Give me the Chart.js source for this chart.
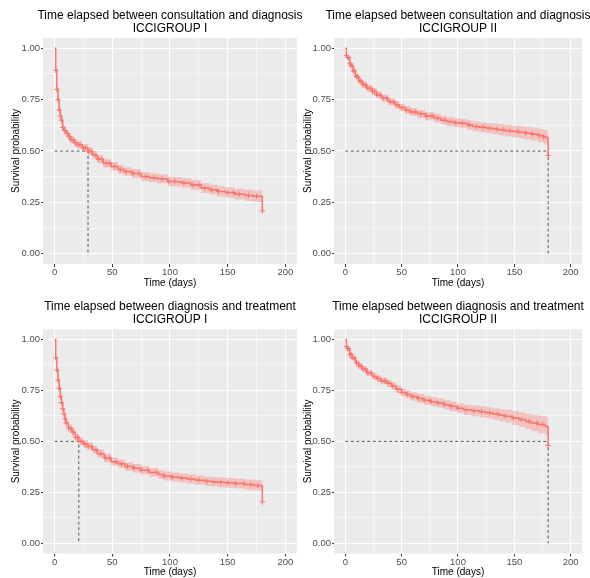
<!DOCTYPE html>
<html><head><meta charset="utf-8">
<script src="https://cdn.jsdelivr.net/npm/chart.js@4.4.0/dist/chart.umd.min.js"></script>
<style>
html,body{margin:0;padding:0;background:#fff;overflow:hidden;width:590px;height:578px;position:relative;}
canvas{position:absolute;}
</style></head><body>
<canvas id="c1" width="340" height="290" style="left:0px;top:0px"></canvas>
<canvas id="c2" width="316" height="290" style="left:300px;top:0px"></canvas>
<canvas id="c3" width="340" height="288" style="left:0px;top:290px"></canvas>
<canvas id="c4" width="316" height="288" style="left:300px;top:290px"></canvas>
<script>
// ---------- tick labels / axes ----------
const xMajorTicks = [0, 50, 100, 150, 200];
const xMinorTicks = [25, 75, 125, 175];
const yMajorTicks = [0, 0.25, 0.5, 0.75, 1];
const yMinorTicks = [0.125, 0.375, 0.625, 0.875];
const xLimits = [-10, 210];
const yLimits = [-0.05, 1.05];
const xAxisTitle = 'Time (days)';
const yAxisTitle = 'Survival probability';

// ---------- Panel 1: consultation -> diagnosis, ICCIGROUP I ----------
const cdITitle = ['Time elapsed between consultation and diagnosis', 'ICCIGROUP I'];
const cdITime  = [0,1,2,3,4,5,6,7,8,10,12,14,17,20,24,29,33,37,42,49,55,60,67,75,82,89,98,105,110,118,127,134,141,148,156,165,172,179,180];
const cdISurv  = [1.0,0.893,0.80,0.75,0.70,0.67,0.65,0.615,0.60,0.585,0.57,0.555,0.54,0.53,0.515,0.498,0.48,0.46,0.44,0.425,0.41,0.40,0.39,0.376,0.37,0.365,0.352,0.35,0.344,0.335,0.32,0.312,0.303,0.298,0.29,0.284,0.28,0.279,0.209];
const cdILower = [1.0,0.878,0.782,0.732,0.681,0.651,0.631,0.596,0.581,0.566,0.551,0.536,0.521,0.511,0.496,0.478,0.46,0.44,0.42,0.404,0.389,0.379,0.368,0.354,0.348,0.343,0.329,0.327,0.321,0.311,0.296,0.288,0.278,0.273,0.264,0.257,0.252,0.250,0.250];
const cdIUpper = [1.0,0.908,0.818,0.768,0.719,0.689,0.669,0.634,0.619,0.604,0.589,0.574,0.559,0.549,0.534,0.518,0.50,0.48,0.46,0.446,0.431,0.421,0.412,0.398,0.392,0.387,0.375,0.373,0.367,0.359,0.344,0.336,0.328,0.323,0.316,0.311,0.308,0.308,0.308];
const cdICensor = [1,2,3,4,5,6,7,9,11,13,14,16,18,20,22,25,27,30,32,35,38,41,45,48,52,57,62,68,73,79,86,93,99,104,112,120,125,130,136,142,150,155,160,168,175,180];
const cdIMedian = 29;

// ---------- Panel 2: consultation -> diagnosis, ICCIGROUP II ----------
const cdIITitle = ['Time elapsed between consultation and diagnosis', 'ICCIGROUP II'];
const cdIITime  = [0,1,2,4,5,7,9,12,15,19,24,28,32,38,44,48,53,58,64,71,79,85,90,96,102,108,113,119,125,131,136,142,148,154,160,165,171,176,179,180];
const cdIISurv  = [1.0,0.965,0.955,0.927,0.915,0.89,0.862,0.84,0.822,0.805,0.789,0.773,0.757,0.74,0.724,0.712,0.70,0.69,0.681,0.67,0.66,0.65,0.643,0.638,0.635,0.627,0.619,0.615,0.611,0.607,0.603,0.599,0.595,0.591,0.587,0.582,0.575,0.568,0.562,0.478];
const cdIILower = [1.0,0.959,0.947,0.917,0.904,0.878,0.849,0.826,0.807,0.79,0.773,0.757,0.74,0.723,0.706,0.694,0.681,0.671,0.661,0.65,0.639,0.629,0.621,0.616,0.613,0.604,0.595,0.591,0.586,0.581,0.576,0.571,0.567,0.562,0.557,0.551,0.542,0.533,0.526,0.526];
const cdIIUpper = [1.0,0.971,0.963,0.937,0.926,0.902,0.875,0.854,0.837,0.82,0.805,0.789,0.774,0.757,0.742,0.73,0.719,0.709,0.701,0.69,0.681,0.671,0.665,0.66,0.657,0.65,0.643,0.639,0.636,0.633,0.63,0.627,0.623,0.62,0.617,0.613,0.608,0.603,0.598,0.598];
const cdIICensor = [1,2,3,4,5,6,7,8,10,11,13,14,16,18,20,22,24,26,28,31,34,37,40,43,46,50,54,58,62,67,72,77,82,88,93,98,104,110,116,122,128,134,140,146,153,160,166,172,176,180];
const cdIIMedian = 180;

// ---------- Panel 3: diagnosis -> treatment, ICCIGROUP I ----------
const dtITitle = ['Time elapsed between diagnosis and treatment', 'ICCIGROUP I'];
const dtITime  = [0,1,2,3,4,5,6,7,8,9,10,12,15,18,21,25,29,33,37,43,49,55,61,68,75,82,90,95,101,108,115,122,130,136,141,148,156,165,173,179,180];
const dtISurv  = [1.0,0.91,0.85,0.80,0.76,0.72,0.69,0.66,0.635,0.61,0.59,0.565,0.545,0.52,0.50,0.487,0.475,0.458,0.44,0.418,0.40,0.39,0.377,0.368,0.358,0.348,0.337,0.33,0.325,0.32,0.315,0.31,0.304,0.302,0.299,0.297,0.293,0.288,0.284,0.283,0.203];
const dtILower = [1.0,0.895,0.835,0.784,0.744,0.703,0.673,0.643,0.617,0.592,0.572,0.547,0.527,0.502,0.481,0.468,0.456,0.439,0.42,0.398,0.38,0.37,0.356,0.347,0.337,0.327,0.315,0.308,0.303,0.298,0.292,0.287,0.281,0.279,0.275,0.273,0.269,0.263,0.259,0.257,0.257];
const dtIUpper = [1.0,0.925,0.865,0.816,0.776,0.737,0.707,0.677,0.653,0.628,0.608,0.583,0.563,0.538,0.519,0.506,0.494,0.477,0.46,0.438,0.42,0.41,0.398,0.389,0.379,0.369,0.359,0.352,0.347,0.342,0.338,0.333,0.327,0.325,0.323,0.321,0.317,0.313,0.309,0.309,0.309];
const dtICensor = [1,2,3,4,5,6,7,8,9,10,12,14,16,18,20,23,26,29,32,36,40,44,48,53,58,63,69,75,81,88,95,102,110,118,125,132,138,144,150,157,164,170,176,180];
const dtIMedian = 21;

// ---------- Panel 4: diagnosis -> treatment, ICCIGROUP II ----------
const dtIITitle = ['Time elapsed between diagnosis and treatment', 'ICCIGROUP II'];
const dtIITime  = [0,1,2,4,6,9,12,15,19,24,28,32,37,41,45,50,54,58,64,70,76,82,88,93,99,105,112,119,125,131,137,142,148,154,160,165,171,177,179,180];
const dtIISurv  = [1.0,0.965,0.955,0.927,0.91,0.886,0.87,0.854,0.836,0.818,0.808,0.797,0.785,0.772,0.756,0.74,0.73,0.72,0.711,0.702,0.695,0.688,0.68,0.672,0.663,0.655,0.65,0.646,0.64,0.634,0.628,0.623,0.615,0.607,0.598,0.59,0.583,0.577,0.569,0.48];
const dtIILower = [1.0,0.959,0.947,0.917,0.899,0.874,0.857,0.84,0.821,0.802,0.792,0.78,0.767,0.754,0.737,0.72,0.71,0.699,0.69,0.68,0.673,0.665,0.657,0.648,0.639,0.63,0.624,0.619,0.612,0.605,0.598,0.591,0.581,0.571,0.56,0.55,0.54,0.531,0.521,0.521];
const dtIIUpper = [1.0,0.971,0.963,0.937,0.921,0.898,0.883,0.868,0.851,0.834,0.824,0.814,0.803,0.79,0.775,0.76,0.75,0.741,0.732,0.724,0.717,0.711,0.703,0.696,0.687,0.68,0.676,0.673,0.668,0.663,0.658,0.655,0.649,0.643,0.636,0.63,0.626,0.623,0.617,0.617];
const dtIICensor = [1,2,3,4,5,6,8,10,12,14,16,18,20,23,26,29,32,35,38,42,46,50,55,60,65,70,76,82,88,94,100,107,114,121,128,135,142,149,156,163,170,175,180];
const dtIIMedian = 180;

// ---------- drawing ----------
const FONT = '"Liberation Sans", Arial, Helvetica, sans-serif';
const CURVE = '#F8766D';
const BAND = 'rgba(248,118,109,0.34)';

function stepValue(times, surv, c) {
  let v = surv[0];
  for (let i = 0; i < times.length; i++) { if (times[i] <= c) v = surv[i]; else break; }
  return v;
}
const toPoints = (xs, ys) => xs.map((x, i) => ({x: x, y: ys[i]}));

const panelBg = {
  id: 'panelBg',
  beforeDraw(chart) {
    const a = chart.chartArea, ctx = chart.ctx;
    ctx.save();
    ctx.fillStyle = '#EBEBEB';
    ctx.fillRect(a.left, a.top, a.right - a.left, a.bottom - a.top);
    ctx.restore();
  }
};

function makePanel(id, p) {
  const xAll = xMajorTicks.concat(xMinorTicks).sort((a, b) => a - b);
  const yAll = yMajorTicks.concat(yMinorTicks).sort((a, b) => a - b);
  const datasets = [
    {label: 'censor', data: p.censor.map(c => ({x: c, y: stepValue(p.time, p.surv, c)})),
     showLine: false, pointStyle: 'cross', pointRadius: 2.6, pointBorderWidth: 1,
     borderColor: CURVE, backgroundColor: CURVE},
    {label: 'survival', data: toPoints(p.time, p.surv), stepped: 'before',
     borderColor: CURVE, borderWidth: 1.5, pointRadius: 0, fill: false},
    {label: 'lower', data: toPoints(p.time, p.lower), stepped: 'before',
     borderColor: 'rgba(0,0,0,0)', borderWidth: 0, pointRadius: 0, fill: false},
    {label: 'upper', data: toPoints(p.time, p.upper), stepped: 'before',
     borderColor: 'rgba(0,0,0,0)', borderWidth: 0, pointRadius: 0, fill: '-1', backgroundColor: BAND},
    {label: 'median', data: [{x: 0, y: 0.5}, {x: p.median, y: 0.5}, {x: p.median, y: 0}],
     borderColor: '#333333', borderWidth: 0.8, borderDash: [3, 2.5], pointRadius: 0, fill: false}
  ];
  return new Chart(document.getElementById(id), {
    type: 'line',
    data: {datasets: datasets},
    plugins: [panelBg],
    options: {
      responsive: false, animation: false,
      layout: {padding: 0},
      plugins: {
        legend: {display: false}, tooltip: {enabled: false},
        title: {display: true, text: p.title, color: '#000', font: {family: FONT, size: 12, weight: 'normal', lineHeight: 1.1},
                padding: {top: p.tPadTop, bottom: p.tPadBottom}}
      },
      scales: {
        x: {
          type: 'linear', min: xLimits[0], max: xLimits[1],
          afterBuildTicks: s => { s.ticks = xAll.map(v => ({value: v})); },
          afterFit: s => { s.height = p.xh; },
          border: {display: false},
          grid: {color: '#FFFFFF', lineWidth: c => (xMajorTicks.includes(c.tick.value) ? 1.1 : 0.5),
                 tickColor: c => (xMajorTicks.includes(c.tick.value) ? '#333333' : 'rgba(0,0,0,0)'), tickLength: 3, tickWidth: 1},
          ticks: {autoSkip: false, maxRotation: 0, padding: 0, color: '#4D4D4D', font: {family: FONT, size: 9.5},
                  callback: v => (xMajorTicks.includes(v) ? String(v) : '')},
          title: {display: true, text: xAxisTitle, color: '#000', font: {family: FONT, size: 10}, padding: {top: 0, bottom: p.xtPad}}
        },
        y: {
          type: 'linear', position: 'left', min: yLimits[0], max: yLimits[1],
          afterBuildTicks: s => { s.ticks = yAll.map(v => ({value: v})); },
          afterFit: s => { s.width = p.lw; },
          border: {display: false},
          grid: {color: '#FFFFFF', lineWidth: c => (yMajorTicks.includes(c.tick.value) ? 1.1 : 0.5),
                 tickColor: c => (yMajorTicks.includes(c.tick.value) ? '#333333' : 'rgba(0,0,0,0)'), tickLength: 2, tickWidth: 1},
          ticks: {autoSkip: false, padding: 1, color: '#4D4D4D', font: {family: FONT, size: 9.5},
                  callback: v => (yMajorTicks.includes(v) ? v.toFixed(2) : '')},
          title: {display: true, text: yAxisTitle, color: '#000', font: {family: FONT, size: 10}, padding: {top: p.ytPad, bottom: 0}}
        },
        yR: {
          type: 'linear', position: 'right', min: 0, max: 1, display: true,
          afterFit: s => { s.width = p.rw; },
          border: {display: false}, grid: {display: false}, ticks: {display: false}
        }
      }
    }
  });
}

makePanel('c1', {title: cdITitle, time: cdITime, surv: cdISurv, lower: cdILower, upper: cdIUpper, censor: cdICensor, median: cdIMedian,
  lw: 43, rw: 43, xh: 26, tPadTop: 9, tPadBottom: 2.6, xtPad: 0.5, ytPad: 10.5});
makePanel('c2', {title: cdIITitle, time: cdIITime, surv: cdIISurv, lower: cdIILower, upper: cdIIUpper, censor: cdIICensor, median: cdIIMedian,
  lw: 34, rw: 34, xh: 26, tPadTop: 9, tPadBottom: 2.6, xtPad: 0.5, ytPad: 2});
makePanel('c3', {title: dtITitle, time: dtITime, surv: dtISurv, lower: dtILower, upper: dtIUpper, censor: dtICensor, median: dtIMedian,
  lw: 43, rw: 43, xh: 24.5, tPadTop: 10, tPadBottom: 2.9, xtPad: 0, ytPad: 10.5});
makePanel('c4', {title: dtIITitle, time: dtIITime, surv: dtIISurv, lower: dtIILower, upper: dtIIUpper, censor: dtIICensor, median: dtIIMedian,
  lw: 34, rw: 34, xh: 24.5, tPadTop: 10, tPadBottom: 2.9, xtPad: 0, ytPad: 2});
</script>
</body></html>
